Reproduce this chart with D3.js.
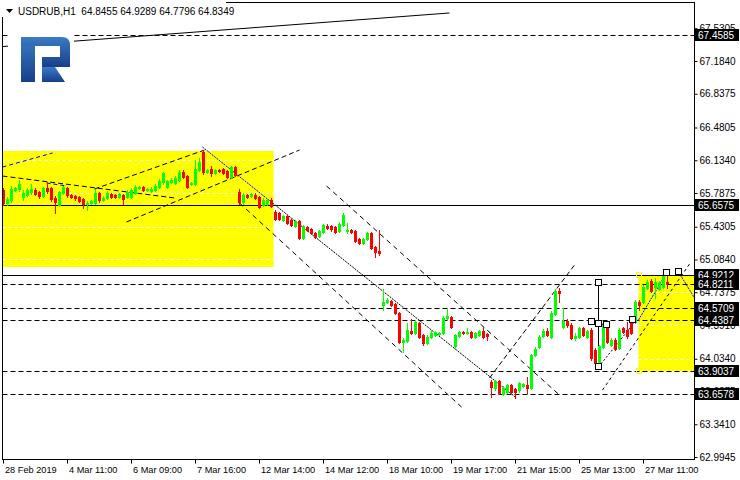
<!DOCTYPE html>
<html><head><meta charset="utf-8">
<script src="https://cdn.jsdelivr.net/npm/d3@7"></script>
<style>
body{margin:0;background:#fff}
svg{display:block;font-family:"Liberation Sans",Arial,sans-serif}
</style>
</head><body>
<svg id="c" width="740" height="480"></svg>
<script>
const symbol = "USDRUB,H1";
const open = [
65.819,65.681,65.713,65.819,65.830,65.745,65.766,65.798,65.819,65.798,
65.756,65.840,65.840,65.734,65.660,65.787,65.840,65.766,65.756,65.745,
65.724,65.671,65.681,65.681,65.787,65.713,65.734,65.777,65.766,65.745,
65.766,65.745,65.745,65.787,65.840,65.851,65.819,65.808,65.819,65.851,
65.904,65.851,65.904,65.893,65.925,66.010,65.967,65.883,65.883,66.031,
66.221,66.010,66.041,65.999,66.031,66.041,66.020,65.957,66.062,65.798,
65.692,65.766,65.756,65.766,65.745,65.660,65.671,65.713,65.587,65.576,
65.502,65.544,65.502,65.438,65.491,65.311,65.428,65.406,65.364,65.332,
65.375,65.438,65.438,65.428,65.385,65.449,65.385,65.396,65.385,65.301,
65.259,65.301,65.364,65.216,65.174,64.602,64.634,64.645,64.613,64.518,
64.211,64.222,64.327,64.306,64.412,64.285,64.201,64.264,64.285,64.296,
64.306,64.465,64.476,64.169,64.275,64.317,64.306,64.317,64.264,64.285,
64.327,64.296,63.788,63.724,63.798,63.661,63.682,63.756,63.714,63.703,
63.745,63.756,63.724,64.073,64.158,64.275,64.327,64.264,64.507,64.751,
64.370,64.433,64.391,64.253,64.264,64.359,64.264,64.338,64.126,63.946,
64.158,64.370,64.179,64.232,64.148,64.359,64.338,64.412,64.423,64.634,
64.634,64.782,64.856,64.793,64.772,64.793,64.8455];
const high = [
65.840,65.745,65.862,65.851,65.925,65.819,65.840,65.883,65.840,65.808,
65.851,65.904,65.851,65.756,65.808,65.862,65.851,65.777,65.766,65.756,
65.734,65.702,65.713,65.830,65.798,65.756,65.808,65.787,65.777,65.787,
65.777,65.819,65.840,65.872,65.862,65.862,65.840,65.851,65.883,65.936,
66.010,65.925,65.946,65.967,66.031,66.031,65.978,65.904,66.137,66.158,
66.242,66.041,66.073,66.041,66.041,66.052,66.031,66.073,66.073,65.830,
65.787,65.777,65.787,65.787,65.756,65.734,65.724,65.734,65.608,65.587,
65.555,65.555,65.512,65.502,65.502,65.449,65.438,65.417,65.375,65.396,
65.460,65.460,65.449,65.438,65.481,65.576,65.470,65.406,65.396,65.311,
65.311,65.375,65.375,65.227,65.396,64.772,64.676,64.655,64.624,64.529,
64.253,64.412,64.454,64.444,64.423,64.296,64.285,64.338,64.327,64.317,
64.486,64.571,64.486,64.296,64.327,64.327,64.359,64.327,64.317,64.338,
64.370,64.306,63.809,63.809,63.809,63.745,63.767,63.767,63.724,63.788,
63.777,63.841,64.084,64.158,64.285,64.349,64.359,64.539,64.772,64.782,
64.571,64.454,64.412,64.306,64.370,64.370,64.338,64.359,64.148,64.179,
64.412,64.391,64.253,64.253,64.359,64.370,64.423,64.433,64.655,64.655,
64.814,64.867,64.878,64.888,64.856,64.921,64.9289];
const low = [
65.660,65.660,65.692,65.808,65.808,65.713,65.756,65.777,65.766,65.734,
65.745,65.787,65.702,65.576,65.650,65.777,65.745,65.734,65.713,65.692,
65.629,65.608,65.671,65.671,65.692,65.702,65.724,65.734,65.734,65.734,
65.671,65.734,65.734,65.777,65.830,65.808,65.808,65.798,65.808,65.840,
65.883,65.840,65.893,65.883,65.914,65.946,65.840,65.872,65.872,66.020,
65.989,65.999,65.967,65.989,66.010,65.989,65.946,65.946,65.967,65.671,
65.671,65.734,65.745,65.724,65.629,65.650,65.660,65.639,65.502,65.502,
65.491,65.460,65.438,65.428,65.301,65.301,65.385,65.353,65.311,65.322,
65.364,65.406,65.385,65.364,65.375,65.438,65.364,65.364,65.269,65.248,
65.248,65.290,65.195,65.110,65.132,64.550,64.624,64.592,64.507,64.201,
64.105,64.211,64.296,64.296,64.253,64.179,64.190,64.253,64.275,64.285,
64.296,64.454,64.359,64.148,64.264,64.296,64.296,64.253,64.253,64.275,
64.253,64.232,63.629,63.703,63.661,63.650,63.671,63.671,63.619,63.682,
63.735,63.671,63.714,64.063,64.148,64.264,64.275,64.253,64.497,64.634,
64.359,64.370,64.243,64.232,64.253,64.275,64.253,64.021,63.957,63.936,
64.148,64.201,64.169,64.126,64.137,64.306,64.253,64.296,64.412,64.550,
64.624,64.772,64.740,64.676,64.761,64.782,64.7796];
const close = [
65.681,65.724,65.830,65.840,65.883,65.787,65.819,65.830,65.777,65.756,
65.840,65.808,65.724,65.692,65.798,65.851,65.766,65.745,65.734,65.702,
65.671,65.681,65.702,65.787,65.713,65.734,65.787,65.745,65.745,65.777,
65.724,65.798,65.819,65.851,65.851,65.819,65.830,65.830,65.862,65.914,
65.999,65.914,65.925,65.946,66.010,65.957,65.851,65.893,66.041,66.115,
66.010,66.031,65.999,66.031,66.020,65.999,65.957,66.062,65.978,65.692,
65.766,65.745,65.777,65.734,65.639,65.713,65.713,65.650,65.512,65.512,
65.544,65.470,65.449,65.491,65.311,65.438,65.396,65.364,65.322,65.385,
65.449,65.417,65.406,65.375,65.460,65.555,65.396,65.375,65.280,65.259,
65.301,65.364,65.206,65.163,65.153,64.634,64.655,64.602,64.518,64.211,
64.232,64.338,64.306,64.423,64.264,64.201,64.264,64.306,64.317,64.306,
64.465,64.486,64.370,64.285,64.317,64.306,64.317,64.264,64.306,64.327,
64.264,64.275,63.735,63.798,63.671,63.724,63.756,63.682,63.682,63.777,
63.767,63.724,64.073,64.137,64.264,64.327,64.285,64.518,64.751,64.730,
64.433,64.391,64.253,64.275,64.359,64.285,64.327,64.042,63.989,64.169,
64.391,64.211,64.232,64.137,64.338,64.317,64.275,64.306,64.634,64.602,
64.793,64.846,64.751,64.846,64.835,64.905,64.8349];

const timeLabels = ["28 Feb 2019","4 Mar 11:00","6 Mar 09:00","7 Mar 16:00","12 Mar 14:00","14 Mar 12:00","18 Mar 10:00","19 Mar 17:00","21 Mar 15:00","25 Mar 13:00","27 Mar 11:00"];
const timeLabelBars = [0,16,32,48,64,80,96,112,128,144,160];
const priceTicks = [67.5305,67.1840,66.8375,66.4805,66.1340,65.7875,65.4305,65.0840,64.7375,64.3910,64.0340,63.6875,63.3410,62.9945];
const levels = [67.4585,65.6575,64.9212,64.8211,64.5709,64.4387,63.9037,63.6578];
// zones: [barFrom, barTo, priceTop, priceBottom]
const zones = [[-0.25,67.5,66.232,65.005],[158.75,176,64.9212,63.9037]];
// trend lines: [[bar, price],[bar, price]]
const trends = [
 [[-0.25,67.337],[111.5,67.692]],
 [[-0.25,65.967],[42.75,65.735]],
 [[22.75,65.830],[50.25,66.242]],
 [[30.75,65.481],[74,66.242]],
 [[-0.25,66.062],[12.25,66.211]],
 [[10.75,65.893],[15.75,65.862]],
 [[49.75,66.274],[67.25,65.682]],
 [[67.25,65.682],[128.25,63.619]],
 [[80.75,65.862],[139,63.650]],
 [[59,65.682],[114.5,63.523]],
 [[121.5,63.830],[142.75,65.026]],
 [[148.75,63.947],[158.25,64.444]],
 [[149.75,63.703],[171.5,65.036]],
 [[158.75,64.444],[165.75,64.941]],
 [[168.75,64.952],[174,64.592]],
 [[148.75,64.835],[148.75,63.947]],
 [[147,64.423],[150.75,64.391]]
];
const wavePoints = [[147,64.423],[148.75,64.835],[148.75,64.402],[150.75,64.391],[148.75,63.947],[157.25,64.444],[165.75,64.941],[168.75,64.952]];

// styles (kept apart from the data)
const levelDash = [true,false,false,true,true,true,true,true];
const trendStyle = [
 {c:"#000",d:null},{c:"#000",d:"5,3"},{c:"#000",d:"5,3"},{c:"#000",d:"5,3"},
 {c:"#0000ff",d:"4,3"},{c:"#0000ff",d:"4,3"},{c:"#0000ff",d:"2,1"},
 {c:"#000",d:"2,1"},{c:"#000",d:"5,4"},{c:"#000",d:"5,4"},{c:"#000",d:"5,3"},
 {c:"#000",d:"2,2"},{c:"#000",d:"3,3"},{c:"#0000ff",d:"2,1"},{c:"#0000ff",d:"2,1"},
 {c:"#000",d:null},{c:"#000",d:null}
];

const svg = d3.select("#c");
const L = 2.5, R = 694.5, T = 2.5, B = 459.5;
const x = d3.scaleLinear().domain([0,1]).range([3.5,7.5]);
const y = d3.scaleLinear().domain([62.9945,67.1840]).range([457,61]);

const defs = svg.append("defs");
defs.append("clipPath").attr("id","clip").append("rect")
  .attr("x",L+0.5).attr("y",T+0.5).attr("width",R-L-1).attr("height",B-T-1);
const lg = defs.append("linearGradient").attr("id","lg").attr("x1",0).attr("y1",0).attr("x2",0).attr("y2",1);
lg.append("stop").attr("offset",0).attr("stop-color","#3a7cc6");
lg.append("stop").attr("offset",1).attr("stop-color","#173f88");

svg.append("rect").attr("width",740).attr("height",480).attr("fill","#fff");
const plot = svg.append("g").attr("clip-path","url(#clip)");

// zones
plot.selectAll(".zone").data(zones).join("rect")
  .attr("x",d=>x(d[0])).attr("y",d=>y(d[2]))
  .attr("width",d=>x(d[1])-x(d[0])).attr("height",d=>y(d[3])-y(d[2]))
  .attr("fill","#ffff00");

// grid (white dashed)
plot.selectAll(".grid").data(priceTicks).join("line")
  .attr("x1",L).attr("x2",R)
  .attr("y1",d=>Math.round(y(d))+0.5).attr("y2",d=>Math.round(y(d))+0.5)
  .attr("stroke","#fff").attr("stroke-dasharray","3,3");

// levels
plot.selectAll(".lvl").data(levels).join("line")
  .attr("x1",L).attr("x2",R)
  .attr("y1",d=>Math.round(y(d))+0.5).attr("y2",d=>Math.round(y(d))+0.5)
  .attr("stroke","#000").attr("stroke-dasharray",(d,i)=>levelDash[i]?"5,3":null);

// trend lines
const ln = d3.line().x(p=>x(p[0])).y(p=>y(p[1]));
plot.selectAll(".tr").data(trends).join("path")
  .attr("d",d=>ln(d)).attr("fill","none")
  .attr("stroke",(d,i)=>trendStyle[i].c)
  .attr("stroke-dasharray",(d,i)=>trendStyle[i].d);

// candles
const bars = d3.range(open.length);
const cg = plot.append("g");
bars.forEach(i=>{
  const cx = Math.floor(x(i));
  const up = close[i] >= open[i];
  const col = up ? "#00ff00" : "#ff0000";
  const yh = Math.round(y(high[i])), yl = Math.round(y(low[i]));
  cg.append("rect").attr("x",cx).attr("y",yh).attr("width",1).attr("height",yl-yh+1).attr("fill",col);
  const yt = Math.round(y(Math.max(open[i],close[i]))), yb = Math.round(y(Math.min(open[i],close[i])));
  cg.append("rect").attr("x",cx-1).attr("y",yt).attr("width",3).attr("height",Math.max(1,yb-yt+1)).attr("fill",col);
});

// wave point markers
plot.selectAll(".wp").data(wavePoints).join("rect")
  .attr("x",d=>Math.round(x(d[0]))-3.5).attr("y",d=>Math.round(y(d[1]))-3.5)
  .attr("width",6).attr("height",6).attr("fill","#fff").attr("stroke","#000");
// zone anchor markers
plot.selectAll(".za").data([[zones[1][0],zones[1][2]],[zones[1][0],zones[1][3]]]).join("rect")
  .attr("x",d=>Math.round(x(d[0]))-2.5).attr("y",d=>Math.round(y(d[1]))-2.5)
  .attr("width",5).attr("height",5).attr("fill","none").attr("stroke","#ffff00");

// logo
svg.append("rect").attr("x",8).attr("y",28).attr("width",66).attr("height",60).attr("fill","#fff");
const logo = svg.append("g").attr("fill","url(#lg)");
logo.append("rect").attr("x",21).attr("y",37).attr("width",14).attr("height",45);
logo.append("path").attr("d","M21,37 H62 Q70,37 70,45 V67 H42 V57 H60 V46 H21 Z");
logo.append("path").attr("d","M42,67 H55 L65,82 H42 Z");

// frame
svg.append("rect").attr("x",L).attr("y",T).attr("width",R-L).attr("height",B-T)
  .attr("fill","none").attr("stroke","#000");

// price axis
const yAx = y.copy().domain([y.invert(B),y.invert(T)]).range([B,T]);
const ay = svg.append("g").attr("transform",`translate(${R},0)`)
  .call(d3.axisRight(yAx).tickValues(priceTicks).tickSize(3).tickSizeOuter(0).tickPadding(2).tickFormat(d3.format(".4f")));
ay.select(".domain").remove();
ay.selectAll("text").attr("font-size",10).attr("fill","#000").attr("font-family","Liberation Sans, Arial, sans-serif");
ay.selectAll("line").attr("stroke","#000");

// level tags
const tags = svg.append("g");
levels.forEach(v=>{
  const yy = Math.round(y(v));
  tags.append("rect").attr("x",695).attr("y",yy-6).attr("width",44).attr("height",12).attr("fill","#000");
  tags.append("text").attr("x",698).attr("y",yy).attr("dy","0.35em").attr("font-size",10).attr("fill","#fff").text(v.toFixed(4));
});

// time axis
const xAx = x.copy().domain([x.invert(L),x.invert(R)]).range([L,R]);
const ax = svg.append("g").attr("transform",`translate(0,${B})`)
  .call(d3.axisBottom(xAx).tickValues(timeLabelBars).tickSize(4).tickSizeOuter(0).tickPadding(3)
    .tickFormat((d,i)=>timeLabels[i]));
ax.select(".domain").remove();
ax.selectAll(".tick line").attr("stroke","#000").attr("transform","translate(-0.5,0)");
ax.selectAll("text").attr("text-anchor","start").attr("x",1).attr("font-size",9.2).attr("fill","#000")
  .attr("font-family","Liberation Sans, Arial, sans-serif");

// header
svg.append("rect").attr("x",0).attr("y",0).attr("width",226).attr("height",17).attr("fill","#fff");
svg.append("path").attr("d","M6,9 H13 L9.5,13 Z").attr("fill","#000");
const n = open.length-1;
svg.append("text").attr("x",18).attr("y",15).attr("font-size",10).attr("fill","#000")
  .style("white-space","pre")
  .text(`${symbol}  ${open[n].toFixed(4)} ${high[n].toFixed(4)} ${low[n].toFixed(4)} ${close[n].toFixed(4)}`);
</script>
</body></html>
